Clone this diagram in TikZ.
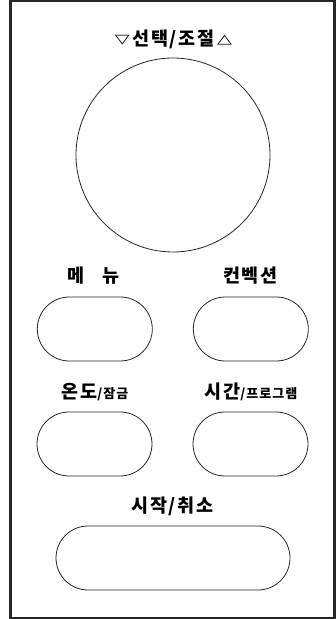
\documentclass[tikz,border=0pt]{standalone}
\usepackage{fontspec}
\setmainfont{Noto Sans CJK KR}[LetterSpace=8]
\newfontfamily\symfont{DejaVu Sans}
\usetikzlibrary{shapes}

\begin{document}
\begin{tikzpicture}[x=1pt,y=1pt]

\tikzstyle{btntext}=[font=\fontsize{18.5}{20}\selectfont\bfseries, inner sep=0pt]
\tikzstyle{button}=[rectangle, rounded corners=32pt, draw=black!85, line width=0.8pt, minimum width=115pt, minimum height=64pt]
\tikzstyle{wide}=[button, minimum width=234pt]
\newcommand{\subtxt}{\fontsize{13}{14}\selectfont}
\newcommand{\tri}[1]{\raisebox{1.5pt}{\scalebox{1.3}[0.85]{\symfont\bfseries\fontsize{15}{15}\selectfont #1}}}

\useasboundingbox (0,0) rectangle (336,619);

\draw[line width=2.5pt, draw=black!85]
  (10.5,1) rectangle (334.5,618);

\node[btntext] (title) at (173.5,580) {\tri{▽}\,선택/조절\,\tri{△}};
\node[circle, draw=black!85, line width=0.8pt, minimum size=194pt] (dial) at (173,464) {};

\node[btntext] (menul) at (93.5,343) {메\quad 뉴};
\node[btntext] (convl) at (250.5,343) {컨벡션};
\node[button] (menu) at (94.8,290) {};
\node[button] (conv) at (250.8,290) {};

\node[btntext] (templ) at (95,227) {온도{\subtxt/잠금}};
\node[btntext] (timel) at (251,227) {시간{\subtxt/프로그램}};
\node[button] (temp) at (94.5,175) {};
\node[button] (time) at (250.5,175) {};

\node[btntext] (startl) at (172.5,113) {시작/취소};
\node[wide] (start) at (173,61) {};

\end{tikzpicture}
\end{document}
